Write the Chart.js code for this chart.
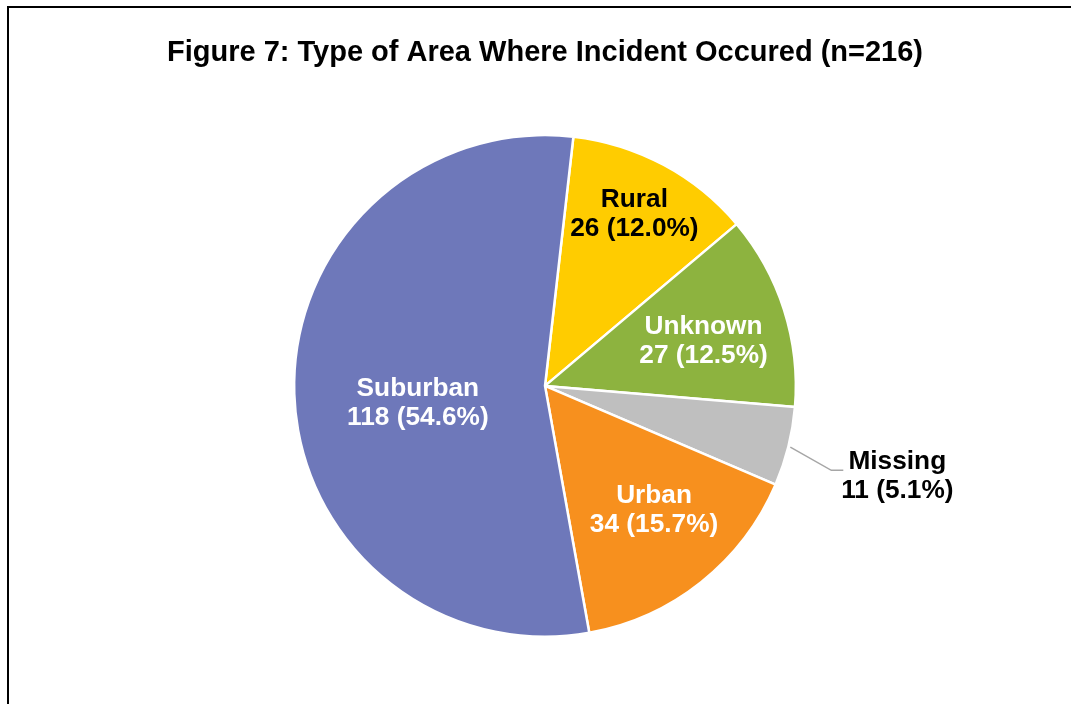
<!DOCTYPE html>
<html>
<head>
<meta charset="utf-8">
<script src="https://cdn.jsdelivr.net/npm/chart.js@4.4.1/dist/chart.umd.min.js"></script>
<style>
  html, body { margin: 0; padding: 0; background: #ffffff; }
  #wrap { position: relative; width: 1071px; height: 704px; overflow: hidden; }
  #frame { position: absolute; left: 7px; top: 6px; width: 1200px; height: 800px;
           border-left: 2px solid #000; border-top: 2px solid #000; }
  canvas { position: absolute; left: 0; top: 0; }
</style>
</head>
<body>
<div id="wrap">
  <div id="frame"></div>
  <canvas id="c" width="1071" height="704"></canvas>
</div>
<script>
const titleText = "Figure 7: Type of Area Where Incident Occured (n=216)";
const categories = ["Rural", "Unknown", "Missing", "Urban", "Suburban"];
const counts = [26, 27, 11, 34, 118];
const percents = ["12.0%", "12.5%", "5.1%", "15.7%", "54.6%"];
const colors = ["#FFCC00", "#8DB33F", "#BFBFBF", "#F7901E", "#6E78BA"];
const labelColors = ["#000000", "#ffffff", "#000000", "#ffffff", "#ffffff"];

// label placement relative to each slice: radial fraction, angle shift (deg)
const labelPlace = [
  { frac: 0.77, shift: -0.6 },
  { frac: 0.656, shift: 2.1 },
  { frac: 1.45, shift: 0.4, leader: true },
  { frac: 0.66, shift: -2.7 },
  { frac: 0.512, shift: -6.3 }
];

const FONT = 'bold 25px "Liberation Sans", Arial, sans-serif';

const labelPlugin = {
  id: 'sliceLabels',
  afterDatasetsDraw(chart) {
    const ctx = chart.ctx;
    const meta = chart.getDatasetMeta(0);
    meta.data.forEach((arc, i) => {
      const p = arc.getProps(['x', 'y', 'startAngle', 'endAngle', 'outerRadius'], true);
      const place = labelPlace[i];
      const mid = (p.startAngle + p.endAngle) / 2;
      const a = mid + place.shift * Math.PI / 180;
      const lx = p.x + Math.cos(a) * p.outerRadius * place.frac;
      const ly = p.y + Math.sin(a) * p.outerRadius * place.frac;
      ctx.save();
      if (place.leader) {
        const sx = p.x + Math.cos(mid) * (p.outerRadius + 2);
        const sy = p.y + Math.sin(mid) * (p.outerRadius + 2);
        ctx.strokeStyle = '#A6A6A6';
        ctx.lineWidth = 1.5;
        ctx.beginPath();
        ctx.moveTo(sx, sy);
        ctx.lineTo(lx - 66, ly - 6);
        ctx.lineTo(lx - 54, ly - 6);
        ctx.stroke();
      }
      ctx.font = FONT;
      ctx.fillStyle = labelColors[i];
      ctx.textAlign = 'center';
      ctx.textBaseline = 'middle';
      const lh = 29;
      ctx.translate(lx, ly);
      ctx.scale(1.05, 1);
      ctx.fillText(categories[i], 0, -lh / 2);
      ctx.fillText(counts[i] + ' (' + percents[i] + ')', 0, lh / 2);
      ctx.restore();
    });
  }
};

new Chart(document.getElementById('c'), {
  type: 'pie',
  data: {
    labels: categories,
    datasets: [{
      data: counts,
      backgroundColor: colors,
      borderColor: '#ffffff',
      borderWidth: 2.5,
      hoverOffset: 0
    }]
  },
  options: {
    responsive: false,
    animation: false,
    rotation: 6.5,
    layout: { padding: { left: 19, right: 0, top: 0, bottom: 66 } },
    plugins: {
      legend: { display: false },
      tooltip: { enabled: false },
      title: {
        display: true,
        text: titleText,
        color: '#000000',
        font: { family: '"Liberation Sans", Arial, sans-serif', size: 29, weight: 'bold', lineHeight: 1.2 },
        padding: { top: 36, bottom: 63 }
      }
    }
  },
  plugins: [labelPlugin]
});
</script>
</body>
</html>
